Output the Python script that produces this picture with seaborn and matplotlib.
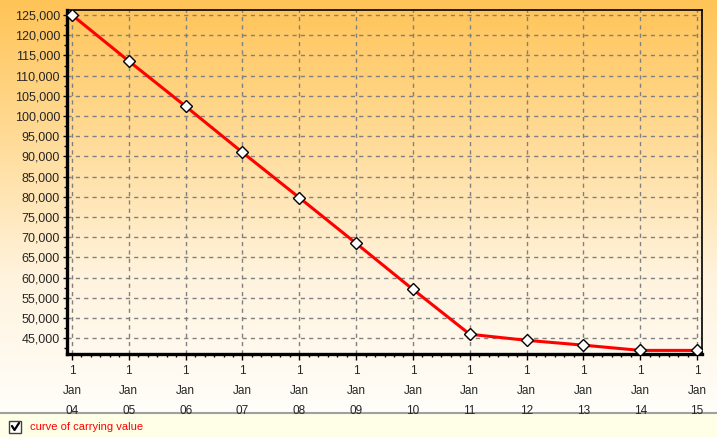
import numpy as np
import pandas as pd
import matplotlib
matplotlib.use("Agg")
import matplotlib.pyplot as plt
from matplotlib.colors import LinearSegmentedColormap
from matplotlib.lines import Line2D
from matplotlib.patches import Rectangle
import seaborn as sns

# ---- data ----
years = ["04", "05", "06", "07", "08", "09", "10", "11", "12", "13", "14", "15"]
values = [125000, 113600, 102400, 91000, 79800, 68500, 57100, 46000, 44500, 43300, 42000, 42000]
y_ticks = list(range(45000, 125001, 5000))
legend_label = "curve of carrying value"

sns.set_theme(style="white")
plt.rcParams['font.family'] = ['Liberation Sans', 'DejaVu Sans']

W, H = 717, 437
fig = plt.figure(figsize=(W / 100, H / 100), dpi=100)

# background gradient (figure level)
bg = fig.add_axes([0, 0, 1, 1], zorder=-10)
bg.set_axis_off()
cmap = LinearSegmentedColormap.from_list("g", ["#FFC457", "#FFDB97", "#FFF3DD", "#FFFEFA"])
grad = np.linspace(0, 1, 413).reshape(-1, 1)
bg.imshow(grad, aspect="auto", cmap=cmap, extent=[0, 1, 1 - 413 / H, 1], origin="upper")
bg.add_patch(Rectangle((0, 0), 1, 1 - 413 / H, color="#FFFFE8", zorder=1))
bg.add_line(Line2D([0, 1], [1 - 413 / H, 1 - 413 / H], color="#A0A0A0", lw=1.5, zorder=2))
bg.set_xlim(0, 1)
bg.set_ylim(0, 1)

# checkbox + legend text
cb = Rectangle((9 / W, 1 - 433 / H), 12 / W, 12 / H, facecolor="white",
               edgecolor="#404040", lw=1, transform=fig.transFigure, zorder=3)
fig.patches.append(cb)
fig.lines.append(Line2D([12 / W, 14.5 / W, 19 / W], [1 - 426 / H, 1 - 430 / H, 1 - 423 / H],
                        color="black", lw=1.6, transform=fig.transFigure, zorder=4))
fig.text(30 / W, 1 - 427 / H, legend_label, color="#FF0000", fontsize=8, va="center", ha="left")

# main axes
left, right, top, bottom = 67, 702, 10, 354
ax = fig.add_axes([left / W, 1 - bottom / H, (right - left) / W, (bottom - top) / H])
ax.patch.set_alpha(0)

df = pd.DataFrame({"x": np.arange(len(years)), "value": values})
sns.lineplot(data=df, x="x", y="value", ax=ax, color="#FF0000", linewidth=2.2,
             marker="D", markersize=6.5, markerfacecolor="white",
             markeredgecolor="black", markeredgewidth=1, zorder=5)

ax.set_xlim(-0.088, 11.088)
ax.set_ylim(41110, 126240)
ax.set_xticks(np.arange(len(years)))
ax.set_xticklabels([f"1\nJan\n{y}" for y in years], fontsize=8.5, linespacing=1.9)
ax.set_xticks(np.arange(0, 11, 1 / 6), minor=True)
ax.set_yticks(y_ticks)
ax.set_yticklabels([f"{v:,}" for v in y_ticks], fontsize=9)
ax.set_yticks(np.arange(42500, 126240, 2500), minor=True)
ax.set_xlabel("")
ax.set_ylabel("")

ax.grid(True, which="major", color="#808080", linestyle=(0, (3, 3)), linewidth=1)
ax.tick_params(axis="x", which="major", length=4, width=1, color="black", pad=4, bottom=True)
ax.tick_params(axis="x", which="minor", length=2, width=1, color="black", bottom=True)
ax.tick_params(axis="y", which="major", length=3, width=1, color="black", pad=2, left=True)
ax.tick_params(axis="y", which="minor", length=2, width=1, color="black", left=True)

for s in ["left", "bottom"]:
    ax.spines[s].set_linewidth(2.4)
    ax.spines[s].set_color("black")
for s in ["top", "right"]:
    ax.spines[s].set_linewidth(1.2)
    ax.spines[s].set_color("black")
    ax.spines[s].set_visible(True)

fig.savefig("out.png", dpi=100)
